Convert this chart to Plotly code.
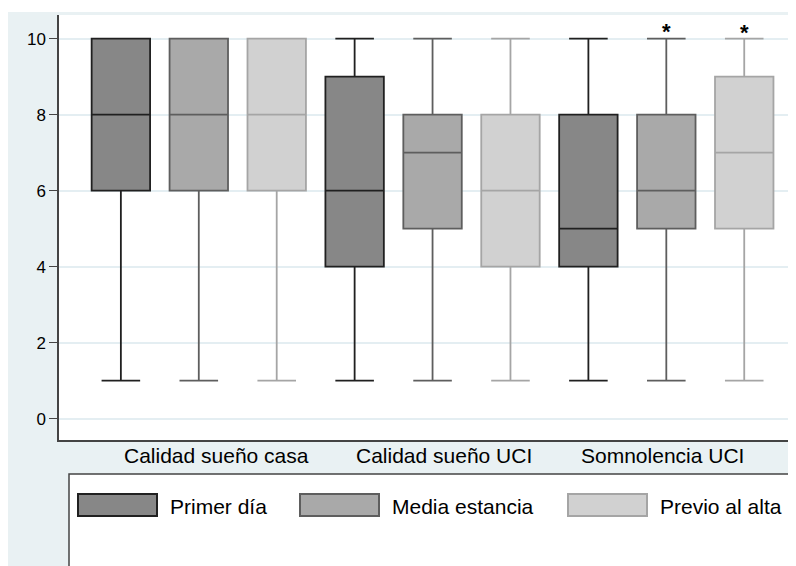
import plotly.graph_objects as go

categories = ["Calidad sueño casa", "Calidad sueño UCI", "Somnolencia UCI"]
series = ["Primer día", "Media estancia", "Previo al alta"]

# box statistics per series, one value per category
q1 = {
    "Primer día": [6, 4, 4],
    "Media estancia": [6, 5, 5],
    "Previo al alta": [6, 4, 5],
}
median = {
    "Primer día": [8, 6, 5],
    "Media estancia": [8, 7, 6],
    "Previo al alta": [8, 6, 7],
}
q3 = {
    "Primer día": [10, 9, 8],
    "Media estancia": [10, 8, 8],
    "Previo al alta": [10, 8, 9],
}
lower = {
    "Primer día": [1, 1, 1],
    "Media estancia": [1, 1, 1],
    "Previo al alta": [1, 1, 1],
}
upper = {
    "Primer día": [10, 10, 10],
    "Media estancia": [10, 10, 10],
    "Previo al alta": [10, 10, 10],
}
# significance stars: (series, category, y)
stars = [("Media estancia", "Somnolencia UCI", 10.18), ("Previo al alta", "Somnolencia UCI", 10.16)]
yticks = [0, 2, 4, 6, 8, 10]

fills = {"Primer día": "#878787", "Media estancia": "#a9a9a9", "Previo al alta": "#d1d1d1"}
lines = {"Primer día": "#202020", "Media estancia": "#5e5e5e", "Previo al alta": "#a5a5a5"}
label_shift = [18, 11, -4]  # category label nudges (px), as in the original layout

BG = "#e9f1f3"
GRID = "#e4eef2"
FONT = "Liberation Sans, Arial, sans-serif"

OFF = 8  # page body margin
W, H = 796, 566
ML, MR, MT, MB = 51, 0, 7, 134
PW = W - ML - MR
PH = H - MT - MB
xr = [-0.598, 2.589]
yr = [-0.56, 10.62]

fig = go.Figure()
for s in series:
    fig.add_trace(go.Box(
        name=s,
        x=categories,
        q1=q1[s], median=median[s], q3=q3[s],
        lowerfence=lower[s], upperfence=upper[s],
        fillcolor=fills[s],
        line=dict(color=lines[s], width=1.8),
        whiskerwidth=0.66,
        boxpoints=False,
        showlegend=False,
        hoverinfo="skip",
    ))

# page-pixel -> paper coords helpers
def px_x(p):
    return (p - OFF - ML) / PW

def px_y(p):
    return 1 - (p - OFF - MT) / PH

# slot offset in px for grouped boxes
px_per_unit = PW / (xr[1] - xr[0])
slot = px_per_unit / len(series)
annotations = []
for s, c, yv in stars:
    k = series.index(s) - (len(series) - 1) / 2
    annotations.append(dict(
        x=c, y=yv, xref="x", yref="y", text="<b>*</b>", showarrow=False,
        xshift=k * slot, font=dict(family=FONT, size=22, color="black"),
        yanchor="middle",
    ))

# category labels
for c, sh in zip(categories, label_shift):
    annotations.append(dict(
        x=c, y=px_y(455), xref="x", yref="paper", text=c, showarrow=False,
        xshift=sh, yanchor="middle", font=dict(family=FONT, size=21, color="black"),
    ))

shapes = [
    # thin white strip above the grey-blue background
    dict(type="rect", xref="paper", yref="paper", x0=px_x(0), x1=px_x(W + OFF), y0=px_y(12), y1=px_y(0),
         fillcolor="white", line=dict(width=0), layer="below"),
    # legend frame
    dict(type="rect", xref="paper", yref="paper", x0=px_x(69), x1=px_x(W + 20), y0=px_y(H + 20), y1=px_y(474),
         fillcolor="white", line=dict(color="#444444", width=1.5), layer="above"),
]

# legend entries
sw_x = [78, 300, 568]
for i, s in enumerate(series):
    shapes.append(dict(type="rect", xref="paper", yref="paper",
                       x0=px_x(sw_x[i]), x1=px_x(sw_x[i] + 79), y0=px_y(516), y1=px_y(494),
                       fillcolor=fills[s], line=dict(color=lines[s], width=2), layer="above"))
    annotations.append(dict(x=px_x(sw_x[i] + 90), y=px_y(506), xref="paper", yref="paper",
                            text=s, showarrow=False, xanchor="left", yanchor="middle",
                            font=dict(family=FONT, size=21, color="black")))

fig.update_layout(
    width=W, height=H,
    margin=dict(l=ML, r=MR, t=MT, b=MB),
    paper_bgcolor=BG,
    plot_bgcolor="white",
    boxmode="group",
    boxgap=0,
    boxgroupgap=0.25,
    font=dict(family=FONT, color="black"),
    shapes=shapes,
    annotations=annotations,
    xaxis=dict(
        type="category", range=xr, showgrid=False, zeroline=False,
        showline=True, linecolor="#444444", linewidth=1.5,
        ticks="", showticklabels=False,
    ),
    yaxis=dict(
        range=yr, tickvals=yticks, ticktext=[str(v) for v in yticks],
        showgrid=True, gridcolor=GRID, gridwidth=1.5, zeroline=False,
        showline=True, linecolor="#444444", linewidth=1.5,
        ticks="outside", ticklen=8, tickcolor="#444444", tickwidth=1.2,
        tickfont=dict(size=17, color="black"),
    ),
)

fig.write_html("out.html")
